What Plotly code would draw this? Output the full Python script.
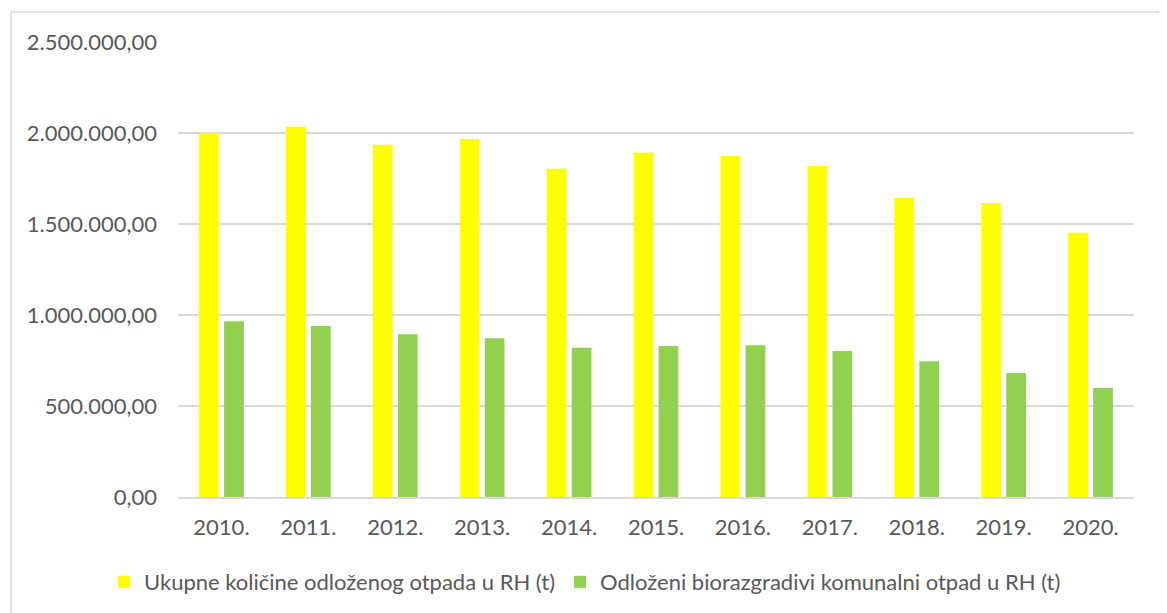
import plotly.graph_objects as go

years = ["2010.", "2011.", "2012.", "2013.", "2014.", "2015.", "2016.", "2017.", "2018.", "2019.", "2020."]
ukupno = [1998000, 2034600, 1935900, 1967000, 1803800, 1891800, 1875300, 1818700, 1642900, 1615400, 1452200]
bio = [965300, 939600, 893800, 871900, 820300, 829700, 833300, 802200, 745600, 681300, 598900]
name_ukupno = "Ukupne količine odloženog otpada u RH (t)"
name_bio = "Odloženi biorazgradivi komunalni otpad u RH (t)"
y_ticks = [0, 500000, 1000000, 1500000, 2000000, 2500000]

FONT = "Lato"
TXT = "#595959"
FS = 22

W, H = 1159, 605
L, T, PW, PH = 170, 34, 956, 455

fig = go.Figure()
fig.add_trace(go.Bar(x=years, y=ukupno, name=name_ukupno, marker=dict(color="#FFFF00", line=dict(width=0))))
fig.add_trace(go.Bar(x=years, y=bio, name=name_bio, marker=dict(color="#92D050", line=dict(width=0))))

fig.update_layout(
    width=W, height=H,
    margin=dict(l=L, r=W - L - PW, t=T, b=H - T - PH, autoexpand=False),
    paper_bgcolor="white", plot_bgcolor="white",
    barmode="group", bargap=0.425, bargroupgap=0.21,
    separators=",.",
    font=dict(family=FONT, size=FS, color=TXT),
    showlegend=True,
    legend=dict(orientation="h", x=(96 - L) / PW, xanchor="left",
                y=(T + PH - 574) / PH, yanchor="middle",
                font=dict(family=FONT, size=FS, color=TXT), itemwidth=30,
                traceorder="normal"),
    xaxis=dict(showgrid=False, showline=True, linecolor="#d9d9d9", linewidth=1.5,
               ticks="", tickfont=dict(family=FONT, size=FS, color=TXT), ticklabelstandoff=10),
    yaxis=dict(range=[0, 2500000], tickvals=y_ticks, tickformat=",.2f",
               showgrid=True, gridcolor="#d9d9d9", gridwidth=1.5, zeroline=False,
               showline=False, ticks="", ticklabelstandoff=20,
               tickfont=dict(family=FONT, size=FS, color=TXT)),
    shapes=[dict(type="rect", xref="paper", yref="paper",
                 x0=(3 - L) / PW, x1=(1180 - L) / PW,
                 y0=(T + PH - 640) / PH, y1=(T + PH - 4) / PH,
                 line=dict(color="#d9d9d9", width=1.5), fillcolor="rgba(0,0,0,0)", layer="below")],
)

fig.write_html("out.html")
